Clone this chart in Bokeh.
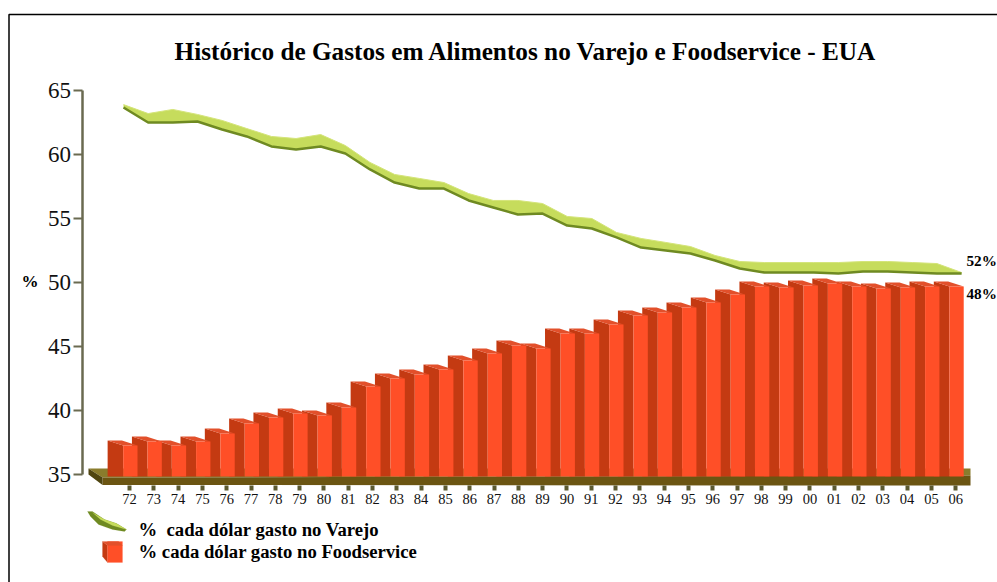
from bokeh.plotting import figure
from bokeh.embed import file_html
from bokeh.resources import INLINE
from bokeh.models import FixedTicker, Label, BoxAnnotation, PolyAnnotation

years = ["72","73","74","75","76","77","78","79","80","81","82","83","84","85","86","87","88",
         "89","90","91","92","93","94","95","96","97","98","99","00","01","02","03","04","05","06"]
foodservice = [37.66,37.97,37.66,37.97,38.59,39.38,39.84,40.16,40.0,40.63,42.27,42.89,43.2,43.59,
               44.3,44.84,45.47,45.23,46.41,46.41,47.11,47.81,48.05,48.44,48.83,49.45,50.08,50.0,
               50.16,50.31,50.08,49.92,50.0,50.08,50.08]
varejo_upper = [63.9,63.2,63.52,63.13,62.66,62.03,61.41,61.25,61.56,60.7,59.38,58.44,58.13,57.81,
                56.95,56.41,56.41,56.17,55.16,55.0,53.91,53.44,53.13,52.81,52.11,51.64,51.56,51.56,
                51.56,51.56,51.64,51.64,51.56,51.48,50.78]
varejo_lower = [63.67,62.5,62.5,62.58,61.95,61.41,60.63,60.39,60.63,60.08,58.83,57.81,57.34,57.34,
                56.41,55.86,55.31,55.39,54.45,54.22,53.52,52.73,52.5,52.27,51.72,51.09,50.78,50.78,
                50.78,50.7,50.86,50.86,50.78,50.7,50.7]
y_ticks = [35,40,45,50,55,60,65]
title_text = "Histórico de Gastos em Alimentos no Varejo e Foodservice - EUA"
legend_varejo = "%\u00a0 cada dólar gasto no Varejo"
legend_food = "% cada dólar gasto no Foodservice"

SERIF = "Liberation Serif"
W, H = 997, 582
LEFT, BOTTOM = 81.5, 485
TICK0, STEP = 129.0, 24.3
V35, VSTEP = 474.0, 12.8

def xv(px): return (px - TICK0) / STEP
def yv(py): return 35 + (V35 - py) / VSTEP

p = figure(width=W, height=H, output_backend="svg", toolbar_location=None,
           x_range=(xv(0), xv(W)), y_range=(yv(H), yv(0)),
           min_border=0, background_fill_color="white", border_fill_color="white", outline_line_color=None)
p.grid.visible = False

xa = p.xaxis[0]
xa.fixed_location = yv(BOTTOM)
xa.ticker = FixedTicker(ticks=list(range(len(years))))
xa.major_label_overrides = {i: y for i, y in enumerate(years)}
xa.axis_line_color = None
xa.major_tick_line_color = "#5c5a30"
xa.major_tick_line_width = 4
xa.major_tick_out = 5
xa.major_tick_in = 0
xa.minor_tick_line_color = None
xa.major_label_standoff = 3
xa.major_label_text_font = SERIF
xa.major_label_text_font_size = "14.5px"
xa.major_label_text_color = "#111111"

ya = p.yaxis[0]
ya.fixed_location = xv(LEFT)
ya.ticker = FixedTicker(ticks=y_ticks)
ya.bounds = (35, 65)
ya.axis_line_color = "#6a6a50"
ya.axis_line_width = 2.5
ya.major_tick_line_color = "#6a6a50"
ya.major_tick_line_width = 2
ya.major_tick_out = 9
ya.major_tick_in = 0
ya.minor_tick_line_color = None
ya.major_label_standoff = 2
ya.major_label_text_font = SERIF
ya.major_label_text_font_size = "23px"
ya.major_label_text_color = "#111111"

# floor
fl, fm, fr = xv(88), xv(102), xv(970)
p.patch([fl, fm, fr, fr], [yv(468), yv(477), yv(475), yv(468)], color="#8a7c2c", line_width=0)
p.patch([fm, fr, fr, fm], [yv(477), yv(475), yv(485), yv(484.5)], color="#6b5512", line_width=0)
p.patch([fl, fm, fm, fl], [yv(468), yv(477), yv(484.5), yv(474)], color="#4f4510", line_width=0)

# bars (pseudo 3D): side, top, then front
base = yv(476)
SIDE_L, FRONT_L, FRONT_R = -0.90, -0.26, 0.33
DROP = 0.39
idx = list(range(len(years)))
p.patches([[i + SIDE_L, i + FRONT_L, i + FRONT_L, i + SIDE_L] for i in idx],
          [[v, v - DROP, base, base] for v in foodservice], color="#c43a12", line_width=0)
p.patches([[i + SIDE_L, i + SIDE_L + FRONT_R - FRONT_L, i + FRONT_R, i + FRONT_L] for i in idx],
          [[v, v, v - DROP, v - DROP] for v in foodservice], color="#e2502b", line_width=0)
p.quad(left=[i + FRONT_L for i in idx], right=[i + FRONT_R for i in idx],
       top=[v - DROP for v in foodservice], bottom=base, color="#ff4f27", line_width=0)

# retail ribbon
line_x = [xv(123 + 24.65 * i) for i in idx]
p.varea(x=line_x, y1=varejo_lower, y2=varejo_upper, fill_color="#c6dc5c")
p.line(line_x, varejo_upper, line_color="#d4e47a", line_width=1)
p.line(line_x, varejo_lower, line_color="#6f8a22", line_width=2.5)

# page frame: only its left and top edges fall inside the window
p.add_layout(BoxAnnotation(left=8.5, right=W + 40, top=14, bottom=H + 40,
                           left_units="canvas", right_units="canvas", top_units="canvas", bottom_units="canvas",
                           fill_alpha=0, line_color="#000000", line_alpha=1, line_width=1.5))

def label(text, px, py, size):
    p.add_layout(Label(x=px, y=py, x_units="canvas", y_units="canvas", text=text,
                       text_font=SERIF, text_font_style="bold", text_font_size=size,
                       text_color="#000000", text_align="left", text_baseline="middle"))

label(title_text, 174, 50, "25.25px")
label("%", 21, 281, "17px")
label("52%", 966, 260, "15.2px")
label("48%", 966, 293, "15.2px")
label(legend_varejo, 138, 529, "18.7px")
label(legend_food, 138, 551, "18.7px")

def poly(xs, ys, color):
    p.add_layout(PolyAnnotation(xs=xs, ys=ys, xs_units="canvas", ys_units="canvas",
                                fill_color=color, fill_alpha=1, line_color=color, line_width=0.5))

poly([87, 92, 104, 116, 126, 124, 112, 98, 90], [511, 511, 519, 523, 529, 531, 529, 524, 516], "#6f8a22")
poly([92, 104, 116, 126, 112, 100], [512, 519, 523, 529, 525, 519], "#c6dc5c")
poly([102, 107, 107, 102], [541, 545, 562, 556], "#c43a12")
poly([107, 122, 122, 107], [541, 541, 562, 562], "#ff4f27")
poly([102, 118, 122, 107], [541, 541, 545, 545], "#e2502b")

open("out.html", "w").write(file_html(p, INLINE))
